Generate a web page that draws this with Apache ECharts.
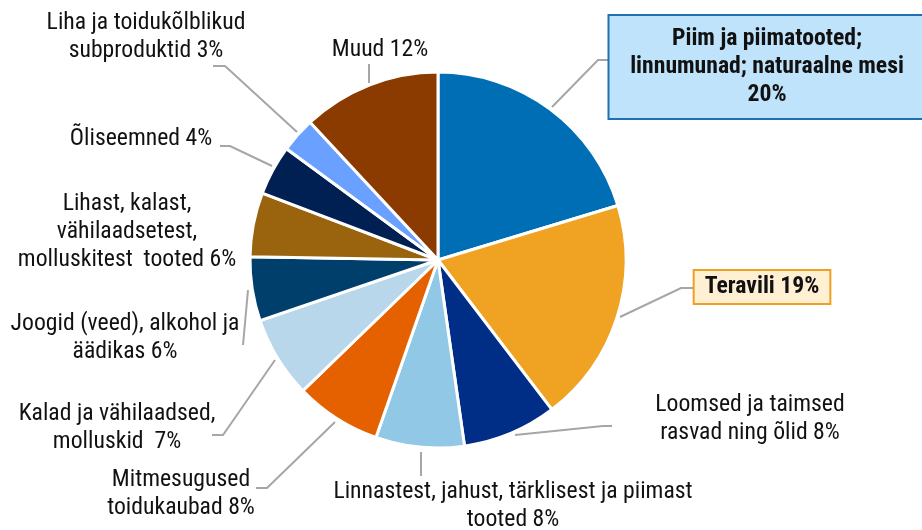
<!DOCTYPE html>
<html>
<head>
<meta charset="utf-8">
<script src="https://cdn.jsdelivr.net/npm/echarts@6/dist/echarts.min.js"></script>
<style>
  html, body { margin: 0; padding: 0; background: #fff; }
  #chart { width: 922px; height: 530px; }
</style>
</head>
<body>
<div id="chart"></div>
<script>
// kategooriad ja osakaalud (%)
const categories = [
  'Piim ja piimatooted;\nlinnumunad; naturaalne mesi',
  'Teravili',
  'Loomsed ja taimsed\nrasvad ning õlid',
  'Linnastest, jahust, tärklisest ja piimast\ntooted',
  'Mitmesugused\ntoidukaubad',
  'Kalad ja vähilaadsed,\nmolluskid ',
  'Joogid (veed), alkohol ja\näädikas',
  'Lihast, kalast,\nvähilaadsetest,\nmolluskitest  tooted',
  'Õliseemned',
  'Liha ja toidukõlblikud\nsubproduktid',
  'Muud'
]
const shares = [20.3, 19.3, 8.1, 7.6, 7.4, 7.0, 5.5, 5.5, 4.3, 3.0, 11.9]
const shownPct = [20, 19, 8, 8, 8, 7, 6, 6, 4, 3, 12]
const colors = ['#006eb4', '#f0a323', '#002e87', '#91c8e6', '#e56100', '#b8d7ea',
  '#003f6b', '#99640d', '#001f52', '#6aa0ff', '#8b3a00']

// sildi asukohad ja juhtjooned (paigutus)
const labelPos = [
  { x: 767, y: 67, lines: [[552, 107], [598, 60], [610, 60]] },
  { x: 762, y: 287, lines: [[620, 317], [681, 288], [695, 288]] },
  { x: 750, y: 419, lines: [[515, 435], [603, 426], [612, 426]] },
  { x: 513, y: 506, lines: [[421, 452], [421, 476]] },
  { x: 181, y: 494, lines: [[335, 422], [267, 488], [256, 488]] },
  { x: 117, y: 428, lines: [[275, 360], [223, 435], [212, 435]] },
  { x: 125, y: 338, lines: [[248, 290], [243, 345]] },
  { x: 127, y: 232, lines: null },
  { x: 141, y: 139, lines: [[272, 166], [230, 146], [220, 146]] },
  { x: 146, y: 37, lines: [[297, 132], [225, 66], [213, 66]] },
  { x: 380, y: 50, lines: [[369, 83], [369, 64]] }
]

const font = "'Roboto Condensed', 'Liberation Sans Narrow', Roboto, sans-serif"

const data = categories.map((name, i) => {
  const item = { name: name, value: shares[i], itemStyle: { color: colors[i] } }
  if (i === 0) {
    item.label = {
      fontWeight: 'bold', backgroundColor: '#bfe3fb', borderColor: '#1f6fb5',
      borderWidth: 2, padding: [9, 12], width: 291
    }
  } else if (i === 1) {
    item.label = {
      fontWeight: 'bold', backgroundColor: '#fff0d4', borderColor: '#f0a020',
      borderWidth: 2, padding: [2, 10]
    }
  }
  if (!labelPos[i].lines) item.labelLine = { show: false }
  return item
})

const chart = echarts.init(document.getElementById('chart'))
chart.setOption({
  animation: false,
  series: [{
    type: 'pie',
    center: [438, 260],
    radius: 188,
    startAngle: 90,
    clockwise: true,
    itemStyle: { borderColor: '#fff', borderWidth: 3 },
    label: {
      show: true,
      position: 'outside',
      color: '#111',
      fontFamily: font,
      fontSize: 23.7,
      lineHeight: 28,
      align: 'center',
      overflow: 'none',
      formatter: p => p.name + (p.dataIndex === 0 ? '\n' : ' ') + shownPct[p.dataIndex] + '%'
    },
    labelLine: {
      show: true,
      lineStyle: { color: '#a6a6a6', width: 2 }
    },
    labelLayout: p => {
      const pos = labelPos[p.dataIndex]
      const out = { x: pos.x, y: pos.y, align: 'center', verticalAlign: 'middle' }
      if (pos.lines) out.labelLinePoints = pos.lines
      return out
    },
    data: data
  }]
})
</script>
</body>
</html>
